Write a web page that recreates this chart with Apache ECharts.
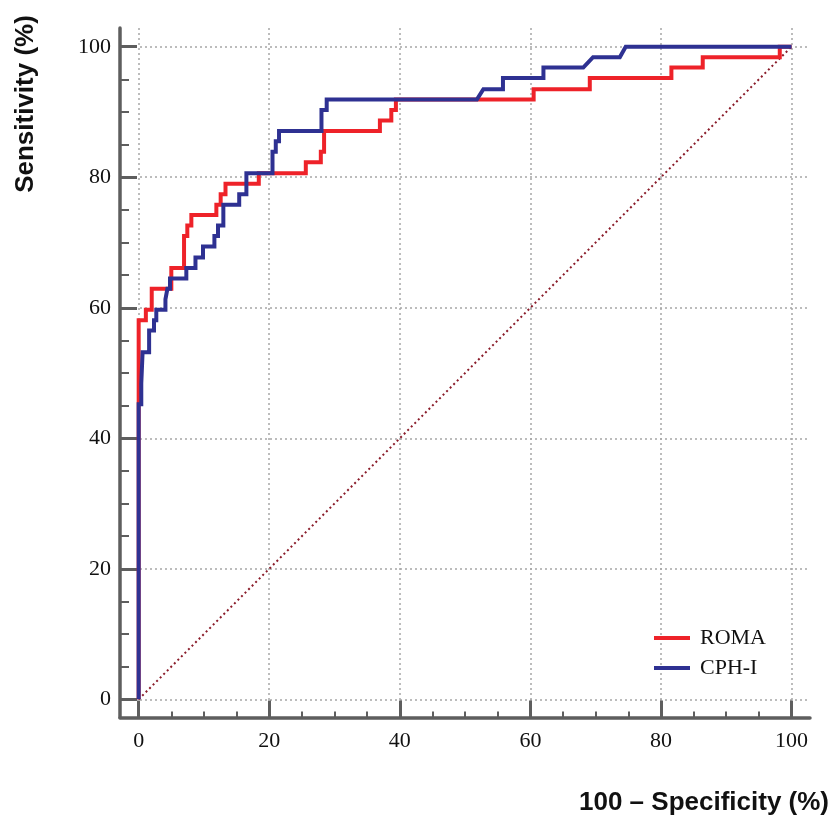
<!DOCTYPE html>
<html>
<head>
<meta charset="utf-8">
<script src="https://cdn.jsdelivr.net/npm/echarts@6/dist/echarts.min.js"></script>
<style>
  html, body { margin: 0; padding: 0; background: #fff; }
  #chart { width: 834px; height: 819px; }
</style>
</head>
<body>
<div id="chart"></div>
<script>
// ROC corner points (100 - specificity, sensitivity)
const romaFpr  = [0, 0, 1.1, 1.1, 2.0, 2.0, 5.0, 5.0, 6.95, 6.95, 7.45, 7.45, 8.07, 8.07, 11.9, 11.9, 12.56, 12.56, 13.3, 13.3,
  18.4, 18.4, 25.6, 25.6, 27.9, 27.9, 28.4, 28.4, 36.95, 36.95, 38.7, 38.7, 39.4, 39.4, 60.5, 60.5, 69.1, 69.1,
  81.6, 81.6, 86.4, 86.4, 98.2, 98.2, 100];
const romaSens = [0, 58.1, 58.1, 59.7, 59.7, 62.9, 62.9, 66.1, 66.1, 71.0, 71.0, 72.6, 72.6, 74.2, 74.2, 75.8, 75.8, 77.4, 77.4, 79.0,
  79.0, 80.6, 80.6, 82.3, 82.3, 83.9, 83.9, 87.1, 87.1, 88.7, 88.7, 90.3, 90.3, 91.9, 91.9, 93.5, 93.5, 95.2,
  95.2, 96.8, 96.8, 98.4, 98.4, 100, 100];

const cphFpr  = [0, 0, 0.4, 0.4, 0.6, 0.6, 1.6, 1.6, 2.35, 2.35, 2.7, 2.7, 4.1, 4.1, 4.4, 4.4, 4.8, 4.8, 7.3, 7.3,
  8.7, 8.7, 9.85, 9.85, 11.6, 11.6, 12.15, 12.15, 12.97, 12.97, 15.4, 15.4, 16.5, 16.5, 20.5, 20.5, 21.0, 21.0,
  21.5, 21.5, 28.0, 28.0, 28.8, 28.8, 51.8, 52.8, 55.8, 55.8, 62.0, 62.0, 68.1, 69.6, 73.7, 74.6, 100];
const cphSens = [0, 45.2, 45.2, 48.4, 48.4, 53.2, 53.2, 56.5, 56.5, 58.1, 58.1, 59.7, 59.7, 61.3, 61.3, 62.9, 62.9, 64.5, 64.5, 66.1,
  66.1, 67.7, 67.7, 69.4, 69.4, 71.0, 71.0, 72.6, 72.6, 75.8, 75.8, 77.4, 77.4, 80.6, 80.6, 83.9, 83.9, 85.5,
  85.5, 87.1, 87.1, 90.3, 90.3, 91.9, 91.9, 93.5, 93.5, 95.2, 95.2, 96.8, 96.8, 98.4, 98.4, 100, 100];

const diagonal = [0, 100];
const majorTicks = [0, 20, 40, 60, 80, 100];
const minorTicks = [5, 10, 15, 25, 30, 35, 45, 50, 55, 65, 70, 75, 85, 90, 95];

const pairs = (xs, ys) => xs.map((x, i) => [x, ys[i]]);

const axisGrey = '#5e5e5e';
const serif = 'Liberation Serif';
const xRange = { min: -2.86, max: 102.83 };
const yRange = { min: -2.79, max: 102.87 };

const chart = echarts.init(document.getElementById('chart'));

const frame = { left: 120, right: 24, top: 28, bottom: 101.5 };

// tick-only axes (grid 1 = minor, grid 2 = major)
const tickAxis = (grid, range, values, len, w) => Object.assign({
  type: 'value', gridIndex: grid,
  axisLine: { show: false, onZero: false },
  axisTick: { show: true, inside: true, length: len, customValues: values, lineStyle: { color: axisGrey, width: w } },
  axisLabel: { show: false },
  splitLine: { show: false }
}, range);

chart.setOption({
  backgroundColor: '#fff',
  animation: false,
  grid: [
    Object.assign({}, frame),
    Object.assign({}, frame),
    Object.assign({}, frame)
  ],
  xAxis: [Object.assign({
    type: 'value', gridIndex: 0,
    axisLine: { onZero: false, lineStyle: { color: axisGrey, width: 3.5 } },
    axisTick: { show: false, customValues: majorTicks },
    axisLabel: { customValues: majorTicks, margin: 13, color: '#111', fontFamily: serif, fontSize: 22 },
    splitLine: { show: true, lineStyle: { color: '#a6a6a6', width: 1.5, type: [2, 3] } }
  }, xRange),
    tickAxis(1, xRange, minorTicks, 6, 2),
    tickAxis(2, xRange, majorTicks, 17, 3)
  ],
  yAxis: [Object.assign({
    type: 'value', gridIndex: 0,
    axisLine: { show: true, onZero: false, lineStyle: { color: axisGrey, width: 3.5 } },
    axisTick: { show: false, customValues: majorTicks },
    axisLabel: { customValues: majorTicks, margin: 9, color: '#111', fontFamily: serif, fontSize: 22 },
    splitLine: { show: true, lineStyle: { color: '#a6a6a6', width: 1.5, type: [2, 3] } }
  }, yRange),
    tickAxis(1, yRange, minorTicks, 9, 2),
    tickAxis(2, yRange, majorTicks, 17, 3)
  ],
  legend: {
    data: ['ROMA', 'CPH-I'],
    orient: 'vertical',
    left: 649, top: 622,
    icon: 'rect', itemWidth: 36, itemHeight: 4, itemGap: 8,
    textStyle: { fontFamily: serif, fontSize: 22, lineHeight: 22, color: '#111', padding: [0, 0, 0, 5] }
  },
  graphic: [{
    type: 'text', x: 829, y: 803,
    style: { text: '100 – Specificity (%)', font: 'bold 26px "Liberation Sans"', fill: '#111', align: 'right', verticalAlign: 'middle' }
  }, {
    type: 'text', x: 26, y: 104, rotation: Math.PI / 2,
    style: { text: 'Sensitivity (%)', font: 'bold 26px "Liberation Sans"', fill: '#111', align: 'center', verticalAlign: 'middle' }
  }],
  series: [{
    name: 'diagonal', type: 'line', xAxisIndex: 0, yAxisIndex: 0,
    data: pairs(diagonal, diagonal), symbol: 'none', silent: true,
    lineStyle: { color: '#8a1c2a', width: 2, type: [2, 3] }
  }, {
    name: 'ROMA', type: 'line', xAxisIndex: 0, yAxisIndex: 0,
    data: pairs(romaFpr, romaSens), symbol: 'none',
    lineStyle: { color: '#ee2229', width: 4, join: 'miter' }, itemStyle: { color: '#ee2229' }
  }, {
    name: 'CPH-I', type: 'line', xAxisIndex: 0, yAxisIndex: 0,
    data: pairs(cphFpr, cphSens), symbol: 'none',
    lineStyle: { color: '#2e3192', width: 4, join: 'miter' }, itemStyle: { color: '#2e3192' }
  }]
});
</script>
</body>
</html>
